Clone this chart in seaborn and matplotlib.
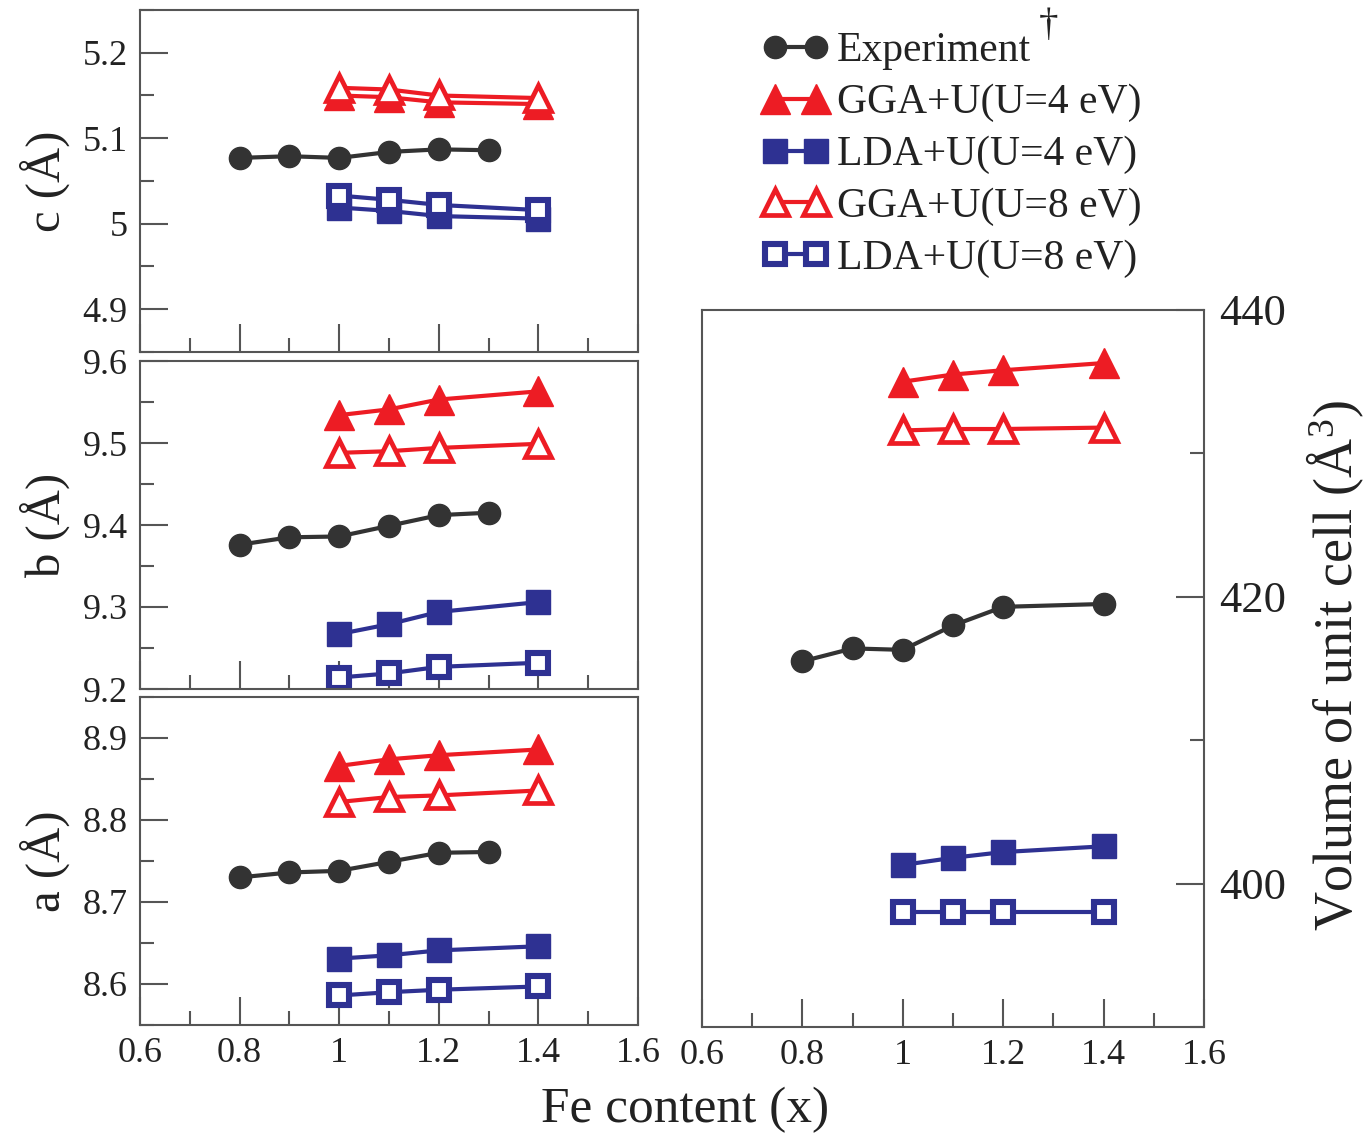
import numpy as np
import pandas as pd
import matplotlib
matplotlib.use('Agg')
import matplotlib.pyplot as plt
import seaborn as sns
from matplotlib.ticker import MultipleLocator, FuncFormatter

# ---------------- data ----------------
x_exp = [0.8, 0.9, 1.0, 1.1, 1.2, 1.3]
x_calc = [1.0, 1.1, 1.2, 1.4]
x_vol_exp = [0.8, 0.9, 1.0, 1.1, 1.2, 1.4]

series = ['Experiment', 'GGA+U(U=4 eV)', 'LDA+U(U=4 eV)', 'GGA+U(U=8 eV)', 'LDA+U(U=8 eV)']

c_exp = [5.077, 5.079, 5.077, 5.084, 5.087, 5.086]
c_gga4 = [5.150, 5.148, 5.142, 5.140]
c_lda4 = [5.019, 5.015, 5.009, 5.006]
c_gga8 = [5.159, 5.157, 5.150, 5.147]
c_lda8 = [5.033, 5.028, 5.022, 5.016]

b_exp = [9.376, 9.385, 9.386, 9.399, 9.412, 9.415]
b_gga4 = [9.534, 9.541, 9.553, 9.563]
b_lda4 = [9.267, 9.279, 9.294, 9.306]
b_gga8 = [9.488, 9.490, 9.494, 9.499]
b_lda8 = [9.214, 9.219, 9.227, 9.232]

a_exp = [8.730, 8.736, 8.738, 8.749, 8.760, 8.761]
a_gga4 = [8.866, 8.874, 8.879, 8.886]
a_lda4 = [8.631, 8.635, 8.641, 8.646]
a_gga8 = [8.822, 8.828, 8.830, 8.836]
a_lda8 = [8.586, 8.590, 8.593, 8.597]

v_exp = [415.5, 416.4, 416.3, 418.0, 419.3, 419.5]
v_gga4 = [435.0, 435.5, 435.8, 436.3]
v_lda4 = [401.3, 401.8, 402.2, 402.6]
v_gga8 = [431.6, 431.7, 431.7, 431.8]
v_lda8 = [398.0, 398.0, 398.0, 398.0]

# ---------------- style ----------------
sns.set_style('ticks')
plt.rcParams['font.family'] = ['Liberation Serif', 'DejaVu Serif']
plt.rcParams['mathtext.fontset'] = 'custom'
plt.rcParams['mathtext.rm'] = 'Liberation Serif'
plt.rcParams['mathtext.it'] = 'Liberation Serif:italic'
plt.rcParams['text.color'] = '#222222'
plt.rcParams['axes.labelcolor'] = '#222222'

RED = '#ED1C24'
BLUE = '#2E3192'
BLACK = '#333333'
SPINE = '#555555'

styles = {
    'Experiment':    dict(color=BLACK, marker='o', ms=16, mfc=BLACK, mew=1.0),
    'GGA+U(U=4 eV)': dict(color=RED, marker='^', ms=22, mfc=RED, mew=1.0),
    'LDA+U(U=4 eV)': dict(color=BLUE, marker='s', ms=17, mfc=BLUE, mew=1.0),
    'GGA+U(U=8 eV)': dict(color=RED, marker='^', ms=19, mfc='white', mew=3.4),
    'LDA+U(U=8 eV)': dict(color=BLUE, marker='s', ms=15, mfc='white', mew=4.4),
}


def draw(ax, xs_list, ys_list):
    for name, xs, ys in zip(series, xs_list, ys_list):
        st = styles[name]
        sns.lineplot(x=xs, y=ys, ax=ax, color=st['color'], marker=st['marker'],
                     markersize=st['ms'], markerfacecolor=st['mfc'],
                     markeredgecolor=st['color'], markeredgewidth=st['mew'],
                     linewidth=3.0, sort=False, errorbar=None, legend=False)


def fmt(v, pos):
    return '%g' % round(v, 4)


def style_axes(ax, right=False, xlabels=True):
    for s in ax.spines.values():
        s.set_visible(True)
        s.set_color(SPINE)
        s.set_linewidth(1.5)
    ax.set_xlim(0.6, 1.6)
    ax.xaxis.set_major_locator(MultipleLocator(0.2))
    ax.xaxis.set_minor_locator(MultipleLocator(0.1))
    ax.xaxis.set_major_formatter(FuncFormatter(fmt))
    ax.yaxis.set_major_formatter(FuncFormatter(fmt))
    ax.tick_params(axis='both', which='major', direction='in', length=20, width=1.5,
                   color=SPINE, labelsize=26, pad=9, labelcolor='#222222')
    ax.tick_params(axis='both', which='minor', direction='in', length=10, width=1.5,
                   color=SPINE)
    ax.tick_params(axis='x', which='both', top=False, bottom=True, labelbottom=xlabels)
    if right:
        ax.tick_params(axis='y', which='both', left=False, right=True,
                       labelleft=False, labelright=True)
        ax.tick_params(axis='y', which='major', labelsize=32, pad=11)
    else:
        ax.tick_params(axis='y', which='both', left=True, right=False)
    ax.set_xlabel('')


W, H = 1366, 1139
fig = plt.figure(figsize=(W / 100, H / 100), dpi=100)


def add_axes(x0, y0, x1, y1):
    return fig.add_axes([x0 / W, 1 - y1 / H, (x1 - x0) / W, (y1 - y0) / H])


ax_c = add_axes(140, 10, 638, 352)
ax_b = add_axes(140, 361, 638, 689)
ax_a = add_axes(140, 697, 638, 1025)
ax_v = add_axes(702, 310, 1204, 1027)

draw(ax_c, [x_exp] + [x_calc] * 4, [c_exp, c_gga4, c_lda4, c_gga8, c_lda8])
draw(ax_b, [x_exp] + [x_calc] * 4, [b_exp, b_gga4, b_lda4, b_gga8, b_lda8])
draw(ax_a, [x_exp] + [x_calc] * 4, [a_exp, a_gga4, a_lda4, a_gga8, a_lda8])
draw(ax_v, [x_vol_exp] + [x_calc] * 4, [v_exp, v_gga4, v_lda4, v_gga8, v_lda8])

style_axes(ax_c, xlabels=False)
ax_c.set_ylim(4.85, 5.25)
ax_c.set_yticks([4.9, 5.0, 5.1, 5.2])
ax_c.yaxis.set_minor_locator(MultipleLocator(0.05))

style_axes(ax_b, xlabels=False)
ax_b.set_ylim(9.2, 9.6)
ax_b.set_yticks([9.2, 9.3, 9.4, 9.5, 9.6])
ax_b.yaxis.set_minor_locator(MultipleLocator(0.05))

style_axes(ax_a, xlabels=True)
ax_a.set_ylim(8.55, 8.95)
ax_a.set_yticks([8.6, 8.7, 8.8, 8.9])
ax_a.yaxis.set_minor_locator(MultipleLocator(0.05))

style_axes(ax_v, right=True, xlabels=True)
ax_v.set_ylim(390, 440)
ax_v.set_yticks([400, 420, 440])
ax_v.yaxis.set_minor_locator(MultipleLocator(10))

for ax, lab in [(ax_c, 'c (Å)'), (ax_b, 'b (Å)'), (ax_a, 'a (Å)')]:
    ax.set_ylabel(lab, fontsize=35)
    ax.yaxis.set_label_coords(-0.14, 0.5)

ax_v.yaxis.set_label_position('right')
ax_v.set_ylabel('Volume of unit cell (Å$^{3}$)', fontsize=39, rotation=90)
ax_v.yaxis.set_label_coords(1.2, 0.505)

fig.text(685 / W, 1 - 1110 / H, 'Fe content (x)', fontsize=37, ha='center', va='center')

handles = list(ax_v.lines[:5])
leg = fig.legend(handles, series, loc='upper left', bbox_to_anchor=(762 / W, 1 - 32 / H),
                 frameon=False, fontsize=30, numpoints=2, handlelength=1.6,
                 handletextpad=0.2, labelspacing=0.32, borderpad=0, borderaxespad=0)
fig.text(1049 / W, 1 - 25 / H, '†', fontsize=28, ha='center', va='center')

fig.savefig('out.png', dpi=100)
